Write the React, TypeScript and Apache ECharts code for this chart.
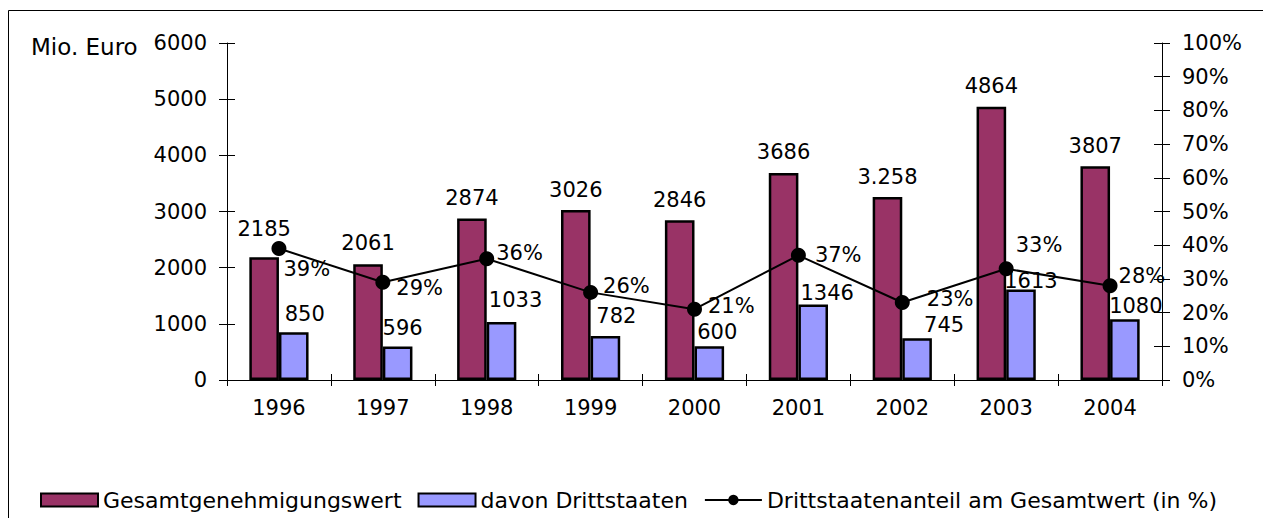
import React, { useEffect, useRef } from "react";
import * as echarts from "echarts";

const years = ["1996", "1997", "1998", "1999", "2000", "2001", "2002", "2003", "2004"];
const gesamt = [2185, 2061, 2874, 3026, 2846, 3686, 3258, 4864, 3807];
const gesamtLabels = ["2185", "2061", "2874", "3026", "2846", "3686", "3.258", "4864", "3807"];
const dritt = [850, 596, 1033, 782, 600, 1346, 745, 1613, 1080];
const anteil = [39, 29, 36, 26, 21, 37, 23, 33, 28];
const leftTicks = { min: 0, max: 6000, interval: 1000 };
const rightTicks = { min: 0, max: 100, interval: 10 };

// label placement tweaks (styles, not data)
const gesamtLabelOffsets = [[0, -8], [0, -1], [0, 0], [0, 0], [0, 0], [0, 0], [0, 0], [0, 0], [0, 0]];
const drittLabelOffsets = [[11, -8], [5, -8], [14, -11], [11, -10], [8, -4], [14, -1], [27, -3], [10, 2], [11, -3]];
const anteilLabelOffsets = [[-3, 20], [6, 6], [2, -6], [5, -6], [6, -3], [9, 0], [17, -3], [2, -24], [1, -10]];

const FONT = "'DejaVu Sans', 'Liberation Sans', Arial, sans-serif";
const MAROON = "#993366";
const BLUE = "#9999FF";

export default function App() {
  const ref = useRef<HTMLDivElement>(null);

  useEffect(() => {
    if (!ref.current) return;
    const chart = echarts.init(ref.current, null, { renderer: "svg" });
    const textStyle = { fontFamily: FONT, fontSize: 21, color: "#000" };

    const option: any = {
      animation: false,
      backgroundColor: "#fff",
      textStyle: { fontFamily: FONT, color: "#000" },
      grid: { left: 227, top: 43, width: 935, height: 337, containLabel: false },
      graphic: [
        {
          type: "rect",
          shape: { x: 8.5, y: 10.5, width: 1262, height: 520 },
          style: { fill: "none", stroke: "#000", lineWidth: 1 },
          silent: true,
        },
        {
          type: "text",
          left: 31,
          top: 35,
          style: { text: "Mio. Euro", font: `23px ${FONT}`, fill: "#000" },
        },
      ],
      legend: {
        left: 40,
        top: 489,
        padding: 0,
        itemWidth: 57,
        itemHeight: 13,
        itemGap: 16,
        textStyle: { fontFamily: FONT, fontSize: 22, color: "#000" },
        data: [
          { name: "Gesamtgenehmigungswert", icon: "rect" },
          { name: "davon Drittstaaten", icon: "rect" },
          { name: "Drittstaatenanteil am Gesamtwert (in %)" },
        ],
      },
      xAxis: [
        {
          type: "category",
          position: "bottom",
          data: years,
          axisLine: { show: true, lineStyle: { color: "#000", width: 1 } },
          axisTick: { show: true, inside: false, length: 6, interval: 0, lineStyle: { color: "#000" } },
          axisLabel: { ...textStyle, margin: 17, interval: 0 },
          splitLine: { show: false },
        },
        {
          type: "category",
          position: "bottom",
          data: years,
          axisLine: { show: false },
          axisTick: { show: true, inside: true, length: 6, interval: 0, lineStyle: { color: "#000" } },
          axisLabel: { show: false },
          splitLine: { show: false },
        },
      ],
      yAxis: [
        {
          type: "value",
          position: "left",
          ...leftTicks,
          axisLine: { show: true, lineStyle: { color: "#000", width: 1 } },
          axisTick: { show: true, inside: false, length: 8, lineStyle: { color: "#000" } },
          axisLabel: { ...textStyle, margin: 20, formatter: (v: number) => String(v) },
          splitLine: { show: false },
        },
        {
          type: "value",
          position: "right",
          ...rightTicks,
          axisLine: { show: true, lineStyle: { color: "#000", width: 1 } },
          axisTick: { show: true, inside: false, length: 8, lineStyle: { color: "#000" } },
          axisLabel: { ...textStyle, margin: 20, formatter: "{value}%" },
          splitLine: { show: false },
        },
        {
          type: "value",
          position: "left",
          ...leftTicks,
          axisLine: { show: false },
          axisTick: { show: true, inside: true, length: 8, lineStyle: { color: "#000" } },
          axisLabel: { show: false },
          splitLine: { show: false },
        },
        {
          type: "value",
          position: "right",
          ...rightTicks,
          axisLine: { show: false },
          axisTick: { show: true, inside: true, length: 8, lineStyle: { color: "#000" } },
          axisLabel: { show: false },
          splitLine: { show: false },
        },
      ],
      series: [
        {
          name: "Gesamtgenehmigungswert",
          type: "bar",
          xAxisIndex: 0,
          yAxisIndex: 0,
          barGap: "0%",
          barCategoryGap: "43%",
          itemStyle: { color: MAROON, borderColor: "#000", borderWidth: 2.5 },
          data: gesamt.map((v, i) => ({
            value: v,
            label: { offset: gesamtLabelOffsets[i] },
          })),
          label: {
            show: true,
            position: "top",
            distance: 10,
            ...textStyle,
            formatter: (p: any) => gesamtLabels[p.dataIndex],
          },
        },
        {
          name: "davon Drittstaaten",
          type: "bar",
          xAxisIndex: 0,
          yAxisIndex: 0,
          barGap: "0%",
          barCategoryGap: "43%",
          itemStyle: { color: BLUE, borderColor: "#000", borderWidth: 2.5 },
          data: dritt.map((v, i) => ({
            value: v,
            label: { offset: drittLabelOffsets[i] },
          })),
          label: {
            show: true,
            position: "top",
            distance: 0,
            ...textStyle,
          },
        },
        {
          name: "Drittstaatenanteil am Gesamtwert (in %)",
          type: "line",
          xAxisIndex: 0,
          yAxisIndex: 1,
          symbol: "circle",
          symbolSize: 15,
          lineStyle: { color: "#000", width: 2 },
          itemStyle: { color: "#000" },
          data: anteil.map((v, i) => ({
            value: v,
            label: { offset: anteilLabelOffsets[i] },
          })),
          label: {
            show: true,
            position: "right",
            distance: 0,
            ...textStyle,
            formatter: "{c}%",
          },
          z: 5,
        },
      ],
    };

    chart.setOption(option);
    return () => chart.dispose();
  }, []);

  return (
    <div
      ref={ref}
      style={{ position: "absolute", left: 0, top: 0, width: 1263, height: 518, background: "#fff" }}
    />
  );
}
